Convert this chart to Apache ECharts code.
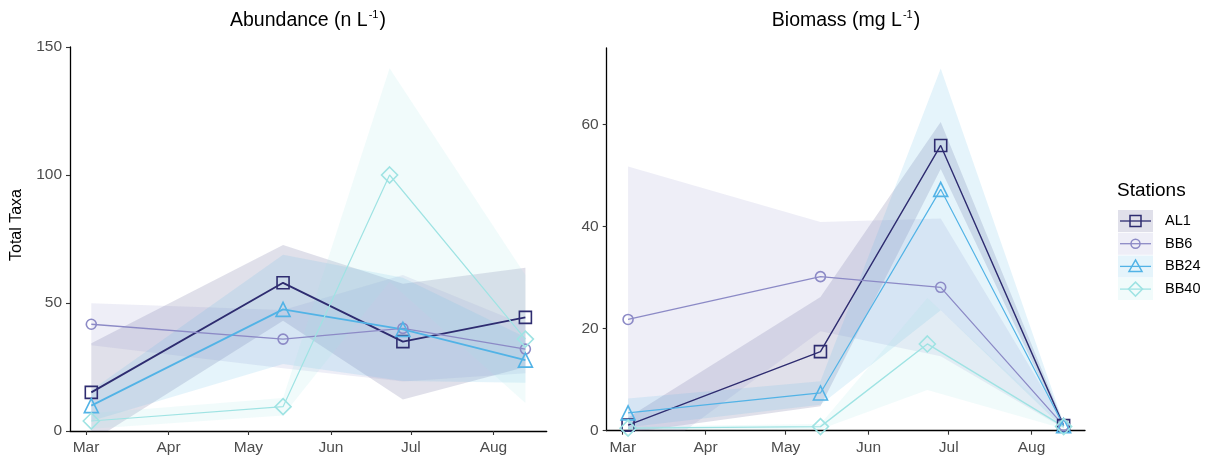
<!DOCTYPE html>
<html>
<head>
<meta charset="utf-8">
<title>Total Taxa by station</title>
<script src="https://cdn.jsdelivr.net/npm/echarts@6/dist/echarts.min.js"></script>
<style>
  html, body { margin: 0; padding: 0; background: #ffffff; }
  #chart { width: 1211px; height: 456px; }
</style>
</head>
<body>
<div id="chart"></div>
<script>
// Sampling dates (BB40 was visited a few days earlier in late June)
const sampleDates = ['2021-03-03', '2021-05-14', '2021-06-28', '2021-08-13'];
const bb40Dates   = ['2021-03-03', '2021-05-14', '2021-06-23', '2021-08-13'];

const stations = ['AL1', 'BB6', 'BB24', 'BB40'];

// Month ticks on the date axis
const monthStarts = ['2021-03-01', '2021-04-01', '2021-05-01', '2021-06-01', '2021-07-01', '2021-08-01'];
const monthLabels = ['Mar', 'Apr', 'May', 'Jun', 'Jul', 'Aug'];

// Value axis ticks
const abundanceTicks = [0, 50, 100, 150];
const biomassTicks = [0, 20, 40, 60];

// Abundance (n L-1): mean and standard error per station
const abundanceAL1  = [15.1, 57.9, 34.9, 44.4];
const abundanceBB6  = [41.7, 35.9, 40.1, 32.0];
const abundanceBB24 = [9.9, 47.5, 39.7, 27.7];
const abundanceBB40 = [3.9, 9.5, 100.0, 35.9];
const abundanceSeAL1  = [19.2, 14.8, 22.6, 19.4];
const abundanceSeBB6  = [8.2, 11.4, 20.8, 9.4];
const abundanceSeBB24 = [6.0, 21.3, 20.2, 8.9];
const abundanceSeBB40 = [3.0, 3.4, 41.7, 25.0];

// Biomass (mg L-1): mean and standard error per station
const biomassAL1  = [1.1, 15.5, 55.9, 1.0];
const biomassBB6  = [21.8, 30.2, 28.1, 1.0];
const biomassBB24 = [3.5, 7.4, 47.3, 1.0];
const biomassBB40 = [0.5, 0.8, 17.0, 0.8];
const biomassSeAL1  = [1.5, 10.7, 4.6, 0.5];
const biomassSeBB6  = [30.0, 10.7, 13.5, 0.5];
const biomassSeBB24 = [2.8, 2.3, 23.7, 0.5];
const biomassSeBB40 = [0.3, 0.5, 9.0, 0.4];

// ---- styling ----
const FONT = "'Liberation Sans', Arial, sans-serif";
const colors = { AL1: '#2e2c70', BB6: '#8c8ac6', BB24: '#52b3e6', BB40: '#9fe3e3' };
const symbols = { AL1: 'rect', BB6: 'circle', BB24: 'triangle', BB40: 'diamond' };
const symbolSizes = { AL1: 12, BB6: 10, BB24: 14, BB40: 16 };
const ribbonAlpha = 0.15;

function toTime(d) {
  const p = d.split('-').map(Number);
  return Date.UTC(p[0], p[1] - 1, p[2]);
}
function rgba(hex, a) {
  const n = parseInt(hex.slice(1), 16);
  return 'rgba(' + (n >> 16) + ',' + ((n >> 8) & 255) + ',' + (n & 255) + ',' + a + ')';
}

const monthTimes = monthStarts.map(toTime);
const panels = [
  {
    means: { AL1: abundanceAL1, BB6: abundanceBB6, BB24: abundanceBB24, BB40: abundanceBB40 },
    ses: { AL1: abundanceSeAL1, BB6: abundanceSeBB6, BB24: abundanceSeBB24, BB40: abundanceSeBB40 },
    widths: { AL1: 1.9, BB6: 1.3, BB24: 1.8, BB40: 1.2 },
    ticks: abundanceTicks, max: 150
  },
  {
    means: { AL1: biomassAL1, BB6: biomassBB6, BB24: biomassBB24, BB40: biomassBB40 },
    ses: { AL1: biomassSeAL1, BB6: biomassSeBB6, BB24: biomassSeBB24, BB40: biomassSeBB40 },
    widths: { AL1: 1.4, BB6: 1.3, BB24: 1.2, BB40: 1.4 },
    ticks: biomassTicks, max: 75
  }
];

const series = [];
panels.forEach(function (panel, gi) {
  // standard-error ribbons (mean ± SE), one filled band per station
  stations.forEach(function (st) {
    const dates = (st === 'BB40' ? bb40Dates : sampleDates).map(toTime);
    const m = panel.means[st], se = panel.ses[st];
    const band = dates.map(function (t, i) { return [t, m[i] - se[i], m[i] + se[i]]; });
    series.push({
      type: 'custom', xAxisIndex: gi, yAxisIndex: gi, clip: true, silent: true, z: 1,
      data: band,
      encode: { x: 0, y: [1, 2] },
      renderItem: function (params, api) {
        if (params.dataIndex !== 0) return null;
        const pts = [];
        band.forEach(function (d) { pts.push(api.coord([d[0], d[2]])); });
        band.slice().reverse().forEach(function (d) { pts.push(api.coord([d[0], d[1]])); });
        return { type: 'polygon', shape: { points: pts }, style: { fill: rgba(colors[st], ribbonAlpha) } };
      }
    });
  });
  // mean lines with hollow markers
  stations.forEach(function (st) {
    const dates = (st === 'BB40' ? bb40Dates : sampleDates).map(toTime);
    const m = panel.means[st];
    series.push({
      name: st, type: 'line', xAxisIndex: gi, yAxisIndex: gi,
      data: dates.map(function (t, i) { return [t, m[i]]; }),
      symbol: symbols[st], symbolSize: symbolSizes[st],
      lineStyle: { color: colors[st], width: panel.widths[st] },
      itemStyle: { color: 'rgba(255,255,255,0)', borderColor: colors[st], borderWidth: 1.6 },
      z: 3
    });
  });
});

const axisLineStyle = { color: '#000000', width: 1.3 };
const labelStyle = { color: '#4d4d4d', fontSize: 15.5, fontFamily: FONT };

const grids = [
  { left: 70, top: 47, width: 476.7, height: 384 },
  { left: 606.7, top: 48, width: 478.3, height: 382.7 }
];

// date axis drawn as a numeric axis over UTC timestamps
const xAxes = grids.map(function (g, i) {
  return {
    type: 'value', gridIndex: i,
    min: toTime('2021-02-23'), max: toTime('2021-08-21'),
    axisLine: { show: true, onZero: false, lineStyle: axisLineStyle },
    axisTick: { show: true, length: 4, customValues: monthTimes, lineStyle: { color: '#333333', width: 1.1 } },
    axisLabel: Object.assign({
      margin: 9, customValues: monthTimes, hideOverlap: false,
      showMinLabel: true, showMaxLabel: true,
      formatter: function (v) {
        const idx = monthTimes.indexOf(v);
        return idx >= 0 ? monthLabels[idx] : '';
      }
    }, labelStyle),
    splitLine: { show: false }
  };
});

const yAxes = panels.map(function (p, i) {
  return {
    type: 'value', gridIndex: i, min: 0, max: p.max,
    axisLine: { show: true, onZero: false, lineStyle: axisLineStyle },
    axisTick: { show: true, length: 4, customValues: p.ticks, lineStyle: { color: '#333333', width: 1.1 } },
    axisLabel: Object.assign({ margin: 8, customValues: p.ticks }, labelStyle),
    splitLine: { show: false }
  };
});

// titles, shared y title and legend
const titleRich = {
  t: { fontSize: 19.5, fontFamily: FONT, color: '#000000', lineHeight: 24 },
  s: { fontSize: 11, fontFamily: FONT, color: '#000000', lineHeight: 24, verticalAlign: 'top', padding: [0, 1, 12, 1] }
};
const graphics = [
  { type: 'text', x: 308, y: 21, style: { text: '{t|Abundance (n L}{s|-1}{t|)}', rich: titleRich, align: 'center', verticalAlign: 'middle' } },
  { type: 'text', x: 846, y: 21, style: { text: '{t|Biomass (mg L}{s|-1}{t|)}', rich: titleRich, align: 'center', verticalAlign: 'middle' } },
  { type: 'text', x: 17, y: 225, rotation: Math.PI / 2,
    style: { text: 'Total Taxa', fontSize: 16, fontFamily: FONT, fill: '#000000', align: 'center', verticalAlign: 'middle' } },
  { type: 'text', x: 1117, y: 191, style: { text: 'Stations', fontSize: 19, fontFamily: FONT, fill: '#000000', align: 'left', verticalAlign: 'middle' } }
];

const keyX = 1118, keyW = 35, keyH = 22, keyTop = 210, keyStep = 22.7;
stations.forEach(function (st, i) {
  const y0 = keyTop + i * keyStep;
  const cy = y0 + keyH / 2, cx = keyX + keyW / 2;
  const c = colors[st];
  graphics.push({ type: 'rect', shape: { x: keyX, y: y0, width: keyW, height: keyH }, style: { fill: rgba(c, ribbonAlpha) }, z: 10 });
  graphics.push({ type: 'line', shape: { x1: keyX + 2, y1: cy, x2: keyX + keyW - 2, y2: cy }, style: { stroke: c, lineWidth: 1.3 }, z: 11 });
  let marker;
  if (st === 'AL1') {
    marker = { type: 'rect', shape: { x: cx - 5.5, y: cy - 5.5, width: 11, height: 11 } };
  } else if (st === 'BB6') {
    marker = { type: 'circle', shape: { cx: cx, cy: cy, r: 4.5 } };
  } else if (st === 'BB24') {
    marker = { type: 'polygon', shape: { points: [[cx, cy - 6.5], [cx + 6.5, cy + 5], [cx - 6.5, cy + 5]] } };
  } else {
    marker = { type: 'polygon', shape: { points: [[cx, cy - 7], [cx + 7, cy], [cx, cy + 7], [cx - 7, cy]] } };
  }
  marker.style = { fill: 'rgba(0,0,0,0)', stroke: c, lineWidth: 1.5 };
  marker.z = 12;
  graphics.push(marker);
  graphics.push({ type: 'text', x: 1165, y: cy, style: { text: st, fontSize: 14.5, fontFamily: FONT, fill: '#000000', align: 'left', verticalAlign: 'middle' }, z: 12 });
});

const chart = echarts.init(document.getElementById('chart'), null, { renderer: 'canvas' });
chart.setOption({
  backgroundColor: '#ffffff',
  animation: false,
  grid: grids,
  xAxis: xAxes,
  yAxis: yAxes,
  series: series,
  graphic: graphics
});
</script>
</body>
</html>
